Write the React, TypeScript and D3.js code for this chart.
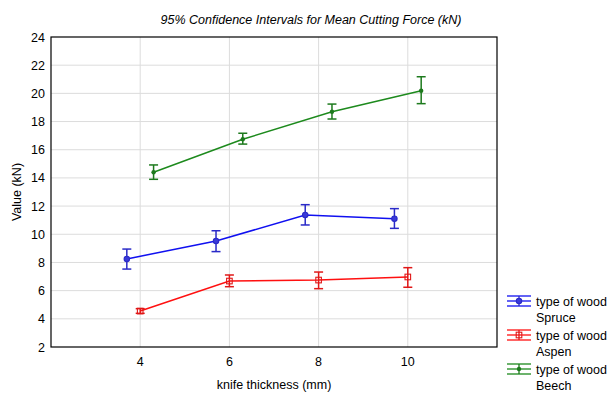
import React, { useEffect, useRef } from "react";
import * as d3 from "d3";

const thickness = [4, 6, 8, 10];
const yTicks = [2, 4, 6, 8, 10, 12, 14, 16, 18, 20, 22, 24];

const spruceMean = [8.25, 9.52, 11.37, 11.1];
const spruceLow = [7.53, 8.77, 10.66, 10.42];
const spruceHigh = [8.95, 10.25, 12.1, 11.82];

const aspenMean = [4.55, 6.68, 6.75, 6.97];
const aspenLow = [4.39, 6.28, 6.14, 6.24];
const aspenHigh = [4.72, 7.11, 7.32, 7.63];

const beechMean = [14.4, 16.74, 18.7, 20.19];
const beechLow = [13.9, 16.4, 18.18, 19.27];
const beechHigh = [14.92, 17.17, 19.24, 21.18];

const series = [
  { name: "Spruce", offset: -0.3, mean: spruceMean, low: spruceLow, high: spruceHigh, line: "#1010f0", bar: "#2a2ac8", marker: "circle" },
  { name: "Aspen", offset: 0, mean: aspenMean, low: aspenLow, high: aspenHigh, line: "#ff1010", bar: "#e01818", marker: "square" },
  { name: "Beech", offset: 0.3, mean: beechMean, low: beechLow, high: beechHigh, line: "#1d8a1d", bar: "#1d7a1d", marker: "dot" },
];

const App = () => {
  const ref = useRef<SVGSVGElement>(null);

  useEffect(() => {
    const svg = d3.select(ref.current);
    svg.selectAll("*").remove();

    const left = 51, right = 497, top = 37, bottom = 347;
    const x = d3.scaleLinear().domain([2, 12]).range([left, right]);
    const y = d3.scaleLinear().domain([2, 24]).range([bottom, top]);
    const font = "'Liberation Sans', Arial, sans-serif";

    // grid
    const grid = svg.append("g");
    yTicks.slice(1, -1).forEach((t) => {
      grid.append("line")
        .attr("x1", left).attr("x2", right)
        .attr("y1", y(t)).attr("y2", y(t))
        .attr("stroke", "#dcdcdc").attr("stroke-width", 1);
    });
    thickness.forEach((t) => {
      grid.append("line")
        .attr("x1", x(t)).attr("x2", x(t))
        .attr("y1", top).attr("y2", bottom)
        .attr("stroke", "#dcdcdc").attr("stroke-width", 1);
    });

    svg.append("rect")
      .attr("x", left).attr("y", top)
      .attr("width", right - left).attr("height", bottom - top)
      .attr("fill", "none").attr("stroke", "#000").attr("stroke-width", 1.2);

    // tick labels
    yTicks.forEach((t) => {
      svg.append("text")
        .attr("x", 45).attr("y", y(t) + 4.5)
        .attr("text-anchor", "end")
        .attr("font-family", font).attr("font-size", 12.5)
        .text(t);
    });
    thickness.forEach((t) => {
      svg.append("text")
        .attr("x", x(t)).attr("y", 366)
        .attr("text-anchor", "middle")
        .attr("font-family", font).attr("font-size", 12.5)
        .text(t);
    });

    svg.append("text")
      .attr("x", (left + right) / 2).attr("y", 389)
      .attr("text-anchor", "middle")
      .attr("font-family", font).attr("font-size", 12.5)
      .text("knife thickness (mm)");

    svg.append("text")
      .attr("transform", `translate(21, ${(top + bottom) / 2}) rotate(-90)`)
      .attr("text-anchor", "middle")
      .attr("font-family", font).attr("font-size", 12.5)
      .text("Value (kN)");

    svg.append("text")
      .attr("x", 311).attr("y", 24)
      .attr("text-anchor", "middle")
      .attr("font-family", font).attr("font-size", 12.5)
      .attr("font-style", "italic")
      .text("95% Confidence Intervals for Mean Cutting Force (kN)");

    const drawMarker = (g: any, s: any, cx: number, cy: number) => {
      if (s.marker === "circle") {
        g.append("circle").attr("cx", cx).attr("cy", cy).attr("r", 2.7)
          .attr("fill", "#3a3ad8").attr("stroke", s.bar).attr("stroke-width", 1.1);
      } else if (s.marker === "square") {
        g.append("rect").attr("x", cx - 2.8).attr("y", cy - 2.8).attr("width", 5.6).attr("height", 5.6)
          .attr("fill", "none").attr("stroke", s.bar).attr("stroke-width", 1.1);
      } else {
        g.append("circle").attr("cx", cx).attr("cy", cy).attr("r", 2.2)
          .attr("fill", s.bar);
      }
    };

    series.forEach((s) => {
      const g = svg.append("g");
      const ln = d3.line<number>()
        .x((_, i) => x(thickness[i] + s.offset))
        .y((d) => y(d));
      g.append("path")
        .attr("d", ln(s.mean))
        .attr("fill", "none").attr("stroke", s.line).attr("stroke-width", 1.5);
      s.mean.forEach((m, i) => {
        const cx = x(thickness[i] + s.offset);
        g.append("line").attr("x1", cx).attr("x2", cx)
          .attr("y1", y(s.low[i])).attr("y2", y(s.high[i]))
          .attr("stroke", s.bar).attr("stroke-width", 1.5);
        [s.low[i], s.high[i]].forEach((v) => {
          g.append("line").attr("x1", cx - 4.5).attr("x2", cx + 4.5)
            .attr("y1", y(v)).attr("y2", y(v))
            .attr("stroke", s.bar).attr("stroke-width", 1.5);
        });
        drawMarker(g, s, cx, y(m));
      });
    });

    // legend
    series.forEach((s, i) => {
      const cy = 301 + i * 34;
      const g = svg.append("g");
      const x0 = 507, x1 = 531, xm = (x0 + x1) / 2;
      [cy - 5, cy, cy + 5].forEach((yy) => {
        g.append("line").attr("x1", x0).attr("x2", x1).attr("y1", yy).attr("y2", yy)
          .attr("stroke", s.line).attr("stroke-width", 1.3);
      });
      g.append("line").attr("x1", xm).attr("x2", xm).attr("y1", cy - 5).attr("y2", cy + 5)
        .attr("stroke", s.bar).attr("stroke-width", 1.3);
      drawMarker(g, s, xm, cy);
      g.append("text").attr("x", 536).attr("y", cy + 4.5)
        .attr("font-family", font).attr("font-size", 12.5)
        .text("type of wood");
      g.append("text").attr("x", 536).attr("y", cy + 20.5)
        .attr("font-family", font).attr("font-size", 12.5)
        .text(s.name);
    });
  }, []);

  return (
    <svg ref={ref} width={613} height={393} style={{ position: "absolute", left: 0, top: 0, background: "#fff" }} />
  );
};

export default App;
